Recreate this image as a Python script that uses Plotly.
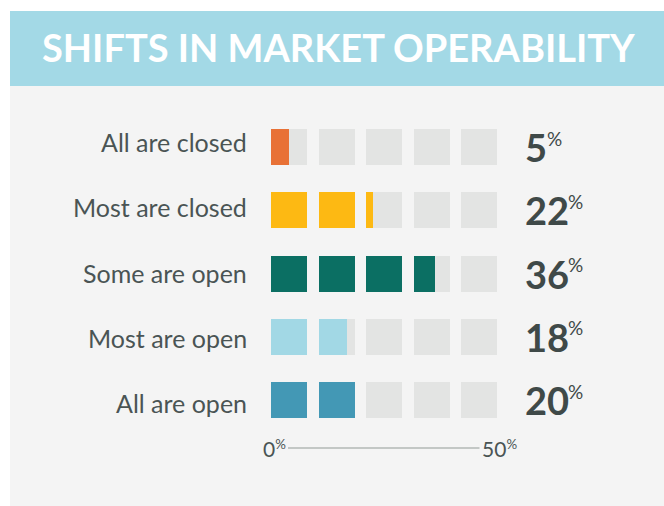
import plotly.graph_objects as go

categories = ["All are closed", "Most are closed", "Some are open", "Most are open", "All are open"]
values = [5, 22, 36, 18, 20]
colors = ["#E87136", "#FDB913", "#0B6F63", "#A2D8E5", "#4398B5"]
block_starts = [0, 10, 20, 30, 40]
block_step = 10
axis_ticks = [0, 50]
title = "SHIFTS IN MARKET OPERABILITY"

W, H = 664, 506
PX_PER_UNIT = 4.75
X0_PX = 271
xmin = -X0_PX / PX_PER_UNIT
xmax = xmin + W / PX_PER_UNIT
ROW0_PX, ROW_STEP = 147, 63.25
ytop = -ROW0_PX / ROW_STEP
ybot = (H - ROW0_PX) / ROW_STEP
BLOCK_LEN = 36 / PX_PER_UNIT  # visual length of a 10% block
BAR_W = 36 / ROW_STEP

GRAY = "#E3E4E3"
TEXT = "#4A5454"
NUM = "#3F4948"

fig = go.Figure()
ys = list(range(len(categories)))

# background gray blocks
for b in block_starts:
    fig.add_trace(go.Bar(
        orientation="h", y=ys, x=[BLOCK_LEN] * len(ys), base=[b] * len(ys),
        width=BAR_W, marker=dict(color=GRAY, line=dict(width=0)),
        hoverinfo="skip", showlegend=False))

# filled blocks
for b in block_starts:
    fill = [max(0, min(v - b, block_step)) / block_step * BLOCK_LEN for v in values]
    fig.add_trace(go.Bar(
        orientation="h", y=ys, x=fill, base=[b] * len(ys),
        width=BAR_W, marker=dict(color=colors, line=dict(width=0)),
        hoverinfo="skip", showlegend=False))

ann = []
for i, (c, v) in enumerate(zip(categories, values)):
    ann.append(dict(x=0, y=i, xref="x", yref="y", text=c, showarrow=False,
                    xanchor="right", yanchor="middle", xshift=-22, yshift=5 - 2 * i,
                    font=dict(family="Lato", size=25, color=TEXT)))
    ann.append(dict(x=0, y=i, xref="x", yref="y", text=f"<b>{v}</b>",
                    showarrow=False, xanchor="left", yanchor="middle", xshift=252,
                    font=dict(family="Lato", size=38, color=NUM)))
    ann.append(dict(x=0, y=i, xref="x", yref="y", text="%",
                    showarrow=False, xanchor="left", yanchor="middle",
                    xshift=252 + 21.5 * len(str(v)), yshift=9,
                    font=dict(family="Lato", size=19, color=NUM)))

# axis labels
AX_Y = 4 + 48 / ROW_STEP
ann.append(dict(x=axis_ticks[0], y=AX_Y, xref="x", yref="y",
                text=f"{axis_ticks[0]}<span style='font-size:19px'><sup>%</sup></span>",
                showarrow=False, xanchor="left", yanchor="middle", xshift=-10,
                font=dict(family="Lato", size=21, color=TEXT)))
ann.append(dict(x=axis_ticks[1], y=AX_Y, xref="x", yref="y",
                text=f"{axis_ticks[1]}<span style='font-size:19px'><sup>%</sup></span>",
                showarrow=False, xanchor="right", yanchor="middle", xshift=10,
                font=dict(family="Lato", size=21, color=TEXT)))

ann.append(dict(x=338 / W, y=1 - 47 / H, xref="paper", yref="paper", text=f"<b>{title}</b>",
                showarrow=False, xanchor="center", yanchor="middle",
                font=dict(family="Lato", size=38, color="white")))

shapes = [
    dict(type="rect", xref="paper", yref="paper", x0=10 / W, x1=1, y0=0, y1=1 - 86 / H,
         fillcolor="#F4F4F4", line=dict(width=0), layer="below"),
    dict(type="rect", xref="paper", yref="paper", x0=10 / W, x1=1, y0=1 - 86 / H, y1=1 - 11 / H,
         fillcolor="#A3D9E6", line=dict(width=0), layer="below"),
    dict(type="line", xref="x", yref="y",
         x0=axis_ticks[0] + 17 / PX_PER_UNIT, x1=axis_ticks[1] - 29 / PX_PER_UNIT,
         y0=AX_Y, y1=AX_Y, line=dict(color="#C3C7C5", width=2)),
]

fig.update_layout(
    width=W, height=H, margin=dict(l=0, r=0, t=0, b=0),
    paper_bgcolor="white", plot_bgcolor="rgba(0,0,0,0)",
    barmode="overlay", bargap=0,
    xaxis=dict(range=[xmin, xmax], visible=False, fixedrange=True),
    yaxis=dict(range=[ybot, ytop], visible=False, fixedrange=True),
    annotations=ann, shapes=shapes,
)

fig.write_html("out.html", config={"displayModeBar": False},
               post_script="document.body.style.margin='0';")
